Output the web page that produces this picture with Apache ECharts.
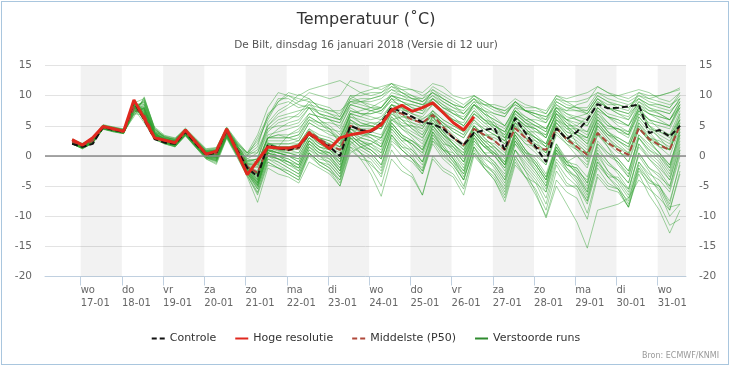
<!DOCTYPE html>
<html><head><meta charset="utf-8">
<script src="https://cdn.jsdelivr.net/npm/echarts@6/dist/echarts.min.js"></script>
<style>
html,body{margin:0;padding:0;background:#fff;}
#frame{position:absolute;left:1px;top:1px;width:726px;height:362px;border:1px solid #a9c6de;}
#chart{position:absolute;left:0;top:0;width:732px;height:366px;}
</style></head>
<body><div id="frame"></div><div id="chart"></div>
<script>
// Time grid: 6-hourly steps (local time) starting 16-01 19:00
const START_DAY = 16 + 19/24;
const STEP_DAYS = 0.25;

// Tick labels (x axis)
const TICK_DAYS = [17,18,19,20,21,22,23,24,25,26,27,28,29,30,31];
const DAY_NAMES = ['wo','do','vr','za','zo','ma','di','wo','do','vr','za','zo','ma','di','wo'];
const DAY_DATES = ['17-01','18-01','19-01','20-01','21-01','22-01','23-01','24-01','25-01','26-01','27-01','28-01','29-01','30-01','31-01'];
const BAND_DAYS = [17,19,21,23,25,27,29,31];
const Y_TICKS = [-20,-15,-10,-5,0,5,10,15];

// Control run
const controle = [2.0, 1.5,2.0,4.8,4.3, 4.0,9.0,6.0,2.8, 2.2,2.0,4.0,2.0, 0.2,0.5,4.3,1.0, -2.0,-3.4,1.8,1.3, 1.0,1.5,3.6,2.5, 1.5,0.0,5.0,4.3, 4.0,5.5,8.0,7.3, 6.5,5.6,5.3,4.5, 3.0,1.8,3.8,4.3, 4.6,1.0,6.3,3.8, 1.5,-1.0,4.6,2.8, 4.0,6.0,8.6,7.9, 8.0,8.2,8.5,3.8, 4.3,3.2,5.0];
// High resolution run (10 days)
const hogeResolutie = [2.7, 1.8,3.0,4.9,4.5, 4.1,9.3,6.2,3.0, 2.6,2.2,4.3,2.3, 0.3,0.8,4.5,0.7, -3.1,-0.8,1.5,1.3, 1.3,1.7,3.8,2.5, 1.2,3.0,3.5,3.8, 4.2,5.2,7.6,8.4, 7.4,8.0,8.8,7.2, 5.5,4.3,6.5];
// Median (P50)
const middelste = [2.3, 1.7,2.5,4.7,4.4, 4.0,8.0,6.8,3.2, 2.5,2.2,4.0,2.1, 0.4,0.4,4.0,1.2, -1.8,-2.8,1.6,1.2, 1.0,1.3,4.0,2.8, 1.8,1.0,5.0,4.3, 4.0,5.0,7.5,7.0, 6.0,5.5,6.8,4.8, 3.0,1.8,4.5,3.5, 2.5,1.0,4.6,3.0, 1.4,1.0,4.6,2.8, 1.5,0.2,3.8,2.2, 1.0,0.2,4.6,2.8, 1.8,1.0,5.1];

// Perturbed ensemble members
const verstoordeRuns = [
[2.2, 1.5,2.4,4.9,4.5, 4.1,8.8,6.2,3.0, 2.4,2.1,4.1,2.1, 0.4,0.5,4.2,1.2, -1.8,-3.0,2.0,1.5, 1.2,1.8,3.8,2.8, 1.8,0.8,5.5,5.0, 4.8,6.0,8.5,7.8, 7.0,6.2,7.0,5.5, 4.0,3.0,5.5,4.5, 3.5,2.5,6.5,4.5, 3.0,1.5,6.0,5.0, 5.0,6.5,9.0,8.0, 7.5,7.0,8.5,5.0, 4.0,3.5,6.0],
[2.6, 1.9,2.8,5.1,4.6, 4.3,7.5,8.0,3.8, 2.8,2.5,4.5,2.6, 0.9,1.0,4.6,2.2, 0.5,2.0,6.5,9.0, 10.0,9.5,9.0,7.0, 6.0,5.5,9.5,10.5, 11.0,11.5,12.0,11.0, 10.0,9.5,10.5,9.0, 8.0,7.5,9.5,8.0, 7.0,6.5,9.0,7.5, 6.5,6.0,9.5,8.5, 8.0,7.5,10.0,9.0, 8.5,8.0,10.0,9.0, 8.5,8.0,10.5],
[2.0, 1.3,2.2,4.6,4.1, 3.8,7.0,6.8,3.4, 2.2,1.6,3.6,1.6, -0.2,-0.6,3.4,0.4, -2.8,-5.5,-0.5,-1.5, -2.5,-3.5,0.5,-1.0, -2.0,-4.5,1.5,0.5, -1.5,-3.0,2.5,1.0, -0.5,-2.0,3.0,1.0, -1.0,-3.0,2.0,0.0, -2.0,-4.5,1.0,-1.5, -3.5,-6.0,-0.5,-2.5, -4.5,-7.5,-1.0,-3.0, -4.0,-5.5,0.5,-2.0, -3.5,-5.0,1.0],
[2.4, 1.7,2.6,4.8,4.4, 4.0,8.2,7.5,3.6, 2.7,2.3,3.9,2.3, 0.6,0.2,3.9,0.8, -2.2,-4.0,1.0,0.0, -0.5,-1.5,2.5,1.0, 0.0,-2.5,3.0,1.5, 0.5,-1.5,3.5,1.5, 0.0,-2.5,2.5,0.0, -1.5,-4.0,1.5,-1.0, -3.0,-5.5,0.0,-2.5, -6.0,-10.3,-5.0,-8.0, -11.0,-15.3,-9.0,-8.5, -8.0,-7.0,-4.0,-5.5, -7.0,-9.0,-3.0],
[2.3, 1.6,2.5,4.7,4.3, 4.0,6.5,9.8,4.5, 3.0,2.8,4.4,2.7, 0.8,0.9,4.4,1.8, -0.5,-1.0,3.0,3.5, 3.0,3.5,6.5,5.5, 4.5,2.0,7.0,7.5, 8.0,9.0,10.0,9.5, 9.0,8.5,9.0,7.5, 6.5,5.0,7.5,6.0, 5.0,3.5,7.5,6.0, 5.0,4.0,8.5,7.0, 6.0,5.0,8.0,6.5, 5.0,4.0,8.0,7.0, 6.5,6.0,9.0],
[2.1, 1.4,2.3,4.5,4.0, 3.7,7.8,5.5,2.8, 2.0,1.5,3.3,1.4, -0.5,-1.2,3.0,0.0, -3.5,-7.7,-2.0,-3.0, -3.5,-4.5,-1.0,-2.0, -3.0,-5.0,0.5,1.5, 2.0,3.0,6.0,6.5, 6.0,5.5,7.0,5.0, 3.5,2.0,5.0,3.0, 1.5,-0.5,4.0,2.0, 0.5,-1.5,3.5,2.0, 1.0,-0.5,5.0,3.5, 2.5,1.0,6.5,4.5, 3.0,2.0,7.0],
[2.5, 1.8,2.7,4.9,4.6, 4.2,8.5,8.8,4.0, 3.2,2.6,4.2,2.5, 0.7,0.6,4.0,1.5, -1.0,-0.5,5.5,7.5, 8.5,10.2,9.5,8.0, 7.5,7.0,10.0,9.0, 8.0,7.5,9.0,8.5, 8.5,8.0,11.0,10.0, 9.0,8.0,9.5,7.5, 5.5,3.0,6.0,4.0, 2.5,0.5,5.0,3.0, 1.5,-0.5,4.5,2.5, 1.0,-1.0,3.5,2.0, 0.5,-1.5,4.0],
[2.0, 1.2,2.1,4.5,4.2, 3.9,8.0,7.2,3.3, 2.5,2.0,3.7,1.8, 0.0,-0.3,3.6,0.6, -2.4,-4.5,0.5,0.0, -1.0,-2.5,1.5,0.0, -1.5,-3.5,2.5,0.5, -2.0,-5.0,1.0,-1.5, -3.0,-6.5,-0.5,-2.5, -3.5,-6.5,0.0,-2.0, -4.0,-7.6,-1.5,-3.5, -4.5,-6.0,0.5,-1.5, -2.5,-4.0,2.5,0.5, -1.0,-3.0,3.5,1.5, 0.0,-2.0,4.5],
[2.7, 2.0,2.9,5.0,4.7, 4.4,8.8,9.5,4.8, 3.4,3.0,4.6,2.9, 1.2,1.4,4.8,2.5, 0.5,0.5,4.5,6.0, 6.5,6.5,8.5,8.0, 7.5,7.5,9.0,9.5, 9.5,10.0,11.5,11.0, 11.0,10.5,12.0,11.5, 10.0,9.5,10.0,8.5, 7.5,7.0,8.5,7.5, 7.0,6.5,8.0,7.5, 8.5,9.0,11.5,10.5, 9.5,9.0,10.0,9.5, 10.0,10.5,11.3],
[2.4, 1.6,2.4,4.8,4.4, 4.1,9.0,6.5,3.1, 2.5,2.2,4.0,2.0, 0.3,0.2,4.1,1.0, -2.0,-3.2,1.8,1.0, 0.8,1.2,4.0,2.5, 1.5,0.5,6.0,4.5, 3.5,3.0,7.5,5.0, 3.5,2.5,6.5,4.0, 2.0,0.5,5.0,3.0, 1.5,0.0,5.5,3.0, 1.0,-1.0,4.5,2.5, 1.5,0.0,5.0,3.0, 1.5,0.0,5.5,3.5, 2.0,1.0,6.5],
[2.3, 1.5,2.3,4.7,4.3, 4.0,7.2,8.5,3.9, 2.6,2.0,3.9,2.0, 0.2,0.0,3.7,0.7, -2.0,-3.8,1.2,0.5, 0.0,-0.5,3.0,1.5, 0.5,-1.5,4.0,2.5, 1.5,0.0,5.0,3.0, 2.0,0.5,4.5,2.5, 1.0,-1.0,3.5,1.5, 0.0,-2.0,3.0,0.5, -1.5,-4.0,1.5,-1.0, -3.0,-5.5,0.0,-2.5, -4.5,-7.0,-2.0,-5.0, -8.0,-11.5,-10.5],
[2.8, 2.1,3.0,5.2,4.8, 4.5,8.0,9.0,4.3, 3.3,2.9,4.3,2.8, 1.0,1.2,4.5,2.0, 0.0,1.0,5.0,7.0, 8.0,9.0,10.5,10.0, 9.5,10.0,12.5,12.0, 11.5,11.0,12.0,10.5, 9.5,9.0,10.0,8.5, 7.0,6.0,8.5,7.0, 6.0,5.0,8.0,7.5, 7.5,7.0,10.0,9.0, 8.0,7.0,9.5,8.0, 7.0,6.5,9.0,8.0, 7.5,7.0,9.5],
[2.2, 1.4,2.3,4.6,4.2, 3.9,8.6,6.0,2.9, 2.1,1.7,3.5,1.6, -0.3,-0.8,3.2,0.2, -2.8,-5.0,0.0,-1.0, -2.0,-3.0,1.0,-0.5, -1.0,-3.0,3.0,2.5, 2.0,1.0,5.5,3.5, 2.5,1.0,5.0,2.5, 0.5,-2.0,3.0,0.5, -1.0,-3.5,2.0,-0.5, -2.5,-5.0,1.0,-2.0, -4.0,-7.0,-0.5,-3.5, -5.0,-8.0,-1.5,-4.0, -5.5,-9.0,-2.5],
[2.5, 1.7,2.6,4.8,4.5, 4.2,7.8,9.2,4.2, 2.9,2.4,4.1,2.3, 0.5,0.7,4.3,1.6, -1.2,-1.5,3.5,4.0, 4.5,5.0,7.0,6.5, 6.0,4.5,8.5,8.0, 7.5,7.0,9.5,8.0, 7.0,6.5,8.5,7.0, 6.0,5.5,8.5,7.5, 6.5,5.0,7.5,5.5, 4.5,3.0,7.0,5.5, 4.5,3.5,7.5,6.5, 6.0,5.0,8.5,7.5, 7.0,6.0,8.0],
[2.1, 1.5,2.4,4.6,4.3, 4.0,8.3,6.6,3.2, 2.4,1.9,3.8,1.9, 0.1,-0.1,3.8,0.8, -1.6,-2.8,2.2,1.5, 1.5,2.0,4.5,3.0, 2.5,1.5,6.5,6.0, 5.5,5.0,8.0,6.0, 4.5,3.0,6.0,3.5, 1.5,-1.0,3.0,0.5, -1.5,-4.0,1.0,-2.0, -4.0,-7.0,-1.0,-3.5, -5.0,-8.0,-2.0,-4.5, -5.5,-7.5,-1.0,-3.0, -4.0,-6.0,0.0],
[2.6, 1.8,2.7,5.0,4.6, 4.3,8.7,7.8,3.7, 2.7,2.4,4.2,2.4, 0.6,0.8,4.4,1.8, -0.8,-0.5,4.0,5.5, 6.0,7.0,9.0,8.5, 8.0,6.5,9.5,9.0, 9.0,9.5,11.0,10.5, 10.0,9.0,10.5,9.5, 8.5,7.0,9.0,7.0, 5.0,4.0,7.5,6.0, 5.0,4.5,8.0,6.0, 4.0,3.0,6.5,4.0, 2.5,1.5,5.0,3.0, 2.0,1.0,5.5],
[2.0, 1.3,2.2,4.5,4.1, 3.8,6.8,8.0,3.5, 2.3,1.8,3.6,1.7, -0.1,-0.4,3.5,0.5, -3.0,-6.0,-1.0,-2.0, -3.0,-4.0,0.0,-1.5, -2.5,-4.0,2.0,3.0, 4.0,5.0,8.0,7.0, 5.0,3.5,6.5,4.0, 2.0,0.0,4.0,2.0, 0.5,-1.5,3.5,1.0, -1.5,-4.0,2.0,-0.5, -2.5,-5.0,1.5,-1.0, -2.5,-4.5,2.0,0.0, -1.5,-4.0,1.5],
[2.3, 1.6,2.5,4.7,4.4, 4.0,8.0,6.9,3.4, 2.6,2.2,3.9,2.0, 0.3,0.4,4.0,1.2, -1.8,-2.6,1.5,1.2, 1.0,1.5,4.2,3.0, 2.0,1.5,5.0,4.5, 4.5,5.0,7.5,7.0, 6.0,5.5,6.5,4.5, 3.0,1.5,4.5,3.5, 2.5,1.0,4.5,3.0, 1.5,0.5,4.5,2.5, 1.0,0.5,4.0,2.0, 0.5,0.0,4.5,2.5, 1.5,1.0,5.0],
[2.7, 1.9,2.8,5.0,4.7, 4.3,8.4,8.6,4.1, 3.1,2.7,4.4,2.6, 0.9,1.1,4.6,2.1, 0.2,1.5,7.0,8.5, 9.0,8.0,8.5,7.0, 6.5,6.0,9.0,9.0, 8.5,8.0,10.0,9.0, 8.0,7.5,9.5,8.0, 7.0,6.0,8.5,7.5, 7.0,6.5,9.0,8.0, 8.0,7.5,10.0,9.5, 10.0,10.5,11.5,10.5, 10.0,9.5,10.5,9.5, 9.0,8.5,9.5],
[2.1, 1.4,2.3,4.6,4.2, 3.9,7.5,7.0,3.3, 2.3,1.9,3.7,1.8, 0.0,-0.2,3.7,0.6, -2.5,-4.5,0.5,0.0, -1.0,-2.0,2.0,0.5, -0.5,-2.5,3.5,2.0, 1.0,-0.5,4.5,2.5, 1.0,-1.0,4.0,1.5, -0.5,-3.0,2.5,0.5, 0.5,-1.0,4.0,2.0, 1.5,0.0,5.0,3.0, 2.0,0.5,5.5,3.5, 2.0,0.5,5.0,2.5, 0.5,-2.0,3.5],
[2.6, 1.8,2.7,4.9,4.6, 4.3,9.0,7.0,3.5, 2.8,2.5,4.3,2.4, 0.7,0.9,4.4,2.0, 0.5,3.5,8.0,10.5, 10.0,9.0,9.5,8.0, 7.0,6.0,8.5,8.0, 7.5,8.0,10.5,10.0, 9.5,9.5,11.5,10.5, 9.5,8.5,10.0,9.0, 8.0,7.5,9.0,7.5, 6.5,5.5,8.0,6.5, 6.0,5.5,9.0,8.0, 7.5,7.0,9.5,8.5, 8.5,8.0,10.0],
[2.4, 1.7,2.5,4.7,4.4, 4.0,8.1,7.3,3.4, 2.5,2.2,4.0,2.1, 0.4,0.3,3.9,0.9, -1.8,-3.5,1.5,1.0, 0.5,0.0,3.0,2.0, 1.0,-0.5,4.5,3.5, 3.0,2.0,6.0,4.5, 3.5,2.0,5.5,3.5, 2.5,1.0,5.0,3.5, 3.0,2.0,6.0,4.0, 3.0,2.0,6.5,4.5, 3.5,2.5,6.0,4.0, 2.5,1.5,5.5,3.0, 1.5,0.0,4.5],
[2.2, 1.5,2.4,4.7,4.3, 4.0,7.6,7.8,3.6, 2.4,1.8,3.6,1.7, -0.1,-0.5,3.5,0.4, -2.6,-4.8,0.0,-0.5, -1.5,-2.5,1.0,0.0, -1.0,-3.0,2.5,1.0, 0.0,-2.0,3.5,1.5, 1.0,-1.0,4.0,2.0, 1.5,0.0,4.5,2.5, 1.0,-1.5,3.5,1.0, -0.5,-3.0,2.0,-1.0, -3.0,-6.0,0.5,-2.5, -4.0,-6.5,-1.0,-3.5, -6.0,-10.0,-8.0],
[2.5, 1.8,2.6,4.9,4.5, 4.2,8.9,6.8,3.3, 2.7,2.3,4.1,2.3, 0.5,0.6,4.2,1.4, -1.5,-2.0,2.5,2.5, 2.5,3.0,6.0,5.5, 5.5,5.0,8.0,7.0, 6.5,6.0,8.5,8.0, 7.5,7.0,8.5,7.0, 6.0,5.0,7.5,6.0, 4.5,3.5,7.0,5.5, 4.0,3.0,7.5,6.0, 5.0,4.0,7.5,5.5, 4.0,3.5,7.0,5.5, 5.0,4.5,8.0],
[2.0, 1.2,2.1,4.4,4.0, 3.7,7.3,7.6,3.7, 2.2,1.6,3.4,1.5, -0.4,-1.0,3.1,0.1, -3.2,-6.5,-1.5,-2.0, -2.5,-3.5,0.5,-1.0, -2.0,-4.0,1.5,-0.5, -3.0,-6.7,-0.5,-2.5, -3.5,-6.5,0.0,-2.0, -3.0,-5.5,0.5,-1.5, -2.5,-5.0,1.0,-1.0, -3.0,-5.5,0.5,-2.0, -3.5,-6.0,0.5,-1.5, -2.5,-4.5,1.5,-0.5, -2.0,-4.0,2.0],
[2.3, 1.5,2.4,4.8,4.4, 4.1,8.4,7.1,3.3, 2.6,2.3,4.0,2.1, 0.2,0.1,3.9,1.0, -2.0,-3.0,2.0,1.5, 1.5,1.0,3.5,2.0, 1.0,-1.0,4.0,3.0, 2.5,1.5,6.0,5.0, 5.0,4.5,7.0,5.5, 4.5,3.5,6.0,4.5, 3.5,2.0,5.5,4.0, 4.0,3.5,7.0,6.0, 6.5,7.0,9.5,8.5, 8.5,8.0,9.5,8.0, 7.0,6.0,8.5],
[2.6, 1.9,2.8,5.0,4.6, 4.3,8.0,9.0,4.4, 3.0,2.6,4.2,2.5, 0.8,0.9,4.3,1.7, -0.5,0.5,5.0,6.5, 7.0,7.5,8.0,6.0, 5.0,3.5,7.5,7.0, 7.0,7.5,9.5,8.0, 6.5,5.0,7.5,5.0, 3.0,1.0,4.0,2.0, 0.5,-1.5,3.0,0.5, -1.0,-3.5,1.5,-1.0, 0.0,-1.5,3.5,2.0, 1.5,0.5,4.5,3.0, 2.5,1.5,6.0],
[2.2, 1.4,2.3,4.6,4.2, 3.9,8.5,6.3,3.0, 2.2,1.8,3.7,1.8, -0.2,-0.6,3.4,0.3, -2.9,-5.2,0.5,1.5, 3.5,4.5,6.5,5.5, 4.0,2.5,7.0,6.5, 6.0,6.5,8.5,7.0, 5.5,4.5,7.5,6.0, 5.0,4.0,7.0,5.5, 4.0,2.5,6.5,5.0, 3.5,2.0,6.0,4.0, 3.0,1.5,6.5,5.0, 4.5,3.5,7.5,6.0, 5.5,5.0,8.5],
[2.5, 1.7,2.6,4.8,4.5, 4.1,8.2,8.2,3.9, 2.9,2.5,4.3,2.4, 0.6,0.7,4.2,1.5, -1.0,-1.0,3.0,3.5, 3.5,4.0,7.0,6.5, 6.0,5.5,8.5,9.0, 9.5,10.0,11.0,10.0, 9.0,8.5,9.5,8.0, 7.5,7.0,9.0,8.5, 8.5,8.0,9.5,8.5, 8.0,7.0,9.5,9.0, 9.0,9.5,10.5,10.0, 10.0,10.5,11.0,10.5, 9.5,9.0,10.5],
[2.1, 1.4,2.2,4.6,4.2, 3.8,8.1,6.0,2.8, 2.0,1.6,3.5,1.5, -0.3,-0.9,3.3,0.2, -2.7,-4.8,0.8,0.5, 0.0,-1.0,2.5,1.0, 0.5,-1.0,4.0,2.5, 1.5,0.5,5.0,3.0, 2.0,0.5,5.0,3.0, 1.5,-0.5,4.0,2.0, 0.0,-2.5,2.5,0.0, -1.5,-4.0,1.0,-1.0, -1.5,-3.5,2.0,0.5, -0.5,-2.5,3.0,1.0, 0.0,-2.5,3.5],
[2.4, 1.6,2.5,4.8,4.4, 4.1,7.0,9.6,4.6, 3.1,2.7,4.3,2.4, 0.5,0.4,4.0,1.2, -1.5,-2.5,2.0,2.0, 2.0,2.5,5.5,4.5, 3.5,3.0,7.0,5.5, 5.0,4.5,8.5,7.5, 7.5,7.0,9.5,8.5, 7.5,6.0,8.0,6.0, 4.5,3.0,6.5,4.5, 3.0,1.5,5.5,3.5, 2.5,1.0,5.5,3.5, 3.0,2.0,6.5,4.5, 4.0,3.0,7.0],
[2.2, 1.5,2.4,4.6,4.2, 3.9,7.9,6.4,3.1, 2.3,1.9,3.8,1.9, 0.0,-0.2,3.6,0.7, -2.2,-4.2,1.0,0.5, 0.5,0.0,3.0,1.5, 1.0,-0.5,5.0,4.0, 3.5,2.5,6.5,4.5, 3.0,1.0,4.5,2.0, -0.5,-3.5,1.5,-1.5, -3.0,-6.0,0.0,-2.5, -4.5,-8.0,-1.5,-4.5, -5.5,-9.5,-3.0,-5.0, -5.5,-8.5,-2.0,-4.0, -5.0,-8.0,-1.0],
[2.6, 1.9,2.7,5.0,4.6, 4.2,8.6,7.4,3.6, 2.8,2.4,4.2,2.4, 0.7,0.8,4.3,1.7, -1.2,-1.2,3.0,4.5, 5.5,6.0,8.0,7.0, 6.5,6.0,9.0,8.5, 8.0,8.0,10.0,9.0, 8.0,7.5,9.0,7.5, 6.0,5.0,7.0,5.5, 5.0,4.0,7.5,6.0, 6.0,5.5,9.0,8.0, 7.5,7.0,9.5,8.0, 7.0,6.0,9.0,7.5, 7.5,7.0,9.5],
[2.3, 1.6,2.4,4.7,4.3, 4.0,8.3,6.2,3.0, 2.4,2.0,3.8,1.9, 0.1,-0.2,3.8,0.7, -2.3,-4.3,0.5,-0.5, -1.5,-2.0,1.5,0.5, 0.5,-1.0,4.5,4.0, 3.0,1.5,5.5,3.5, 1.5,-1.0,3.5,1.0, 0.0,-2.5,3.0,1.5, 1.5,0.0,5.0,3.5, 2.0,0.5,5.5,3.5, 1.0,-1.0,4.0,1.5, -0.5,-2.5,3.0,0.5, -1.0,-3.5,2.5],
[2.7, 2.0,2.9,5.1,4.8, 4.4,7.7,9.3,4.6, 3.2,2.8,4.5,2.7, 1.1,1.3,4.7,2.3, 0.5,2.5,6.0,9.0, 10.5,10.0,11.0,11.5, 12.0,12.5,11.5,10.5, 10.0,10.5,12.0,11.5, 11.0,10.0,11.0,9.5, 8.5,8.0,9.5,8.5, 8.0,7.5,8.5,7.5, 7.0,6.5,8.5,7.5, 7.5,7.5,10.0,9.0, 8.0,7.5,10.5,10.0, 10.0,10.5,11.0],
[2.1, 1.3,2.2,4.5,4.1, 3.8,7.4,7.9,3.8, 2.3,1.7,3.5,1.6, -0.2,-0.7,3.3,0.3, -2.5,-4.6,0.2,-0.5, -1.0,-1.5,2.0,1.0, 0.5,-1.5,3.5,2.0, 1.0,-0.5,4.0,2.0, 0.5,-1.5,3.5,1.5, -0.5,-2.5,2.5,0.5, -1.0,-3.0,2.5,0.5, 0.0,-1.5,4.0,2.0, 0.0,-2.0,3.5,1.5, -1.5,-3.5,2.0,-0.5, -2.5,-5.0,1.0],
[2.5, 1.8,2.6,4.9,4.5, 4.2,8.7,7.6,3.8, 2.8,2.4,4.2,2.3, 0.6,0.5,4.1,1.4, -1.3,-1.8,3.0,3.0, 3.0,3.5,6.0,5.0, 4.5,4.0,7.5,7.0, 7.0,7.5,9.5,9.0, 8.5,8.0,9.5,8.0, 7.0,6.5,8.5,7.0, 6.0,5.0,8.0,6.5, 5.5,4.5,7.5,5.5, 4.0,3.0,7.0,5.0, 4.5,3.5,7.5,5.0, 3.0,1.0,5.0],
[2.0, 1.2,2.1,4.5,4.1, 3.7,8.4,5.8,2.7, 2.0,1.5,3.4,1.4, -0.5,-1.4,2.9,-0.2, -3.3,-6.2,-1.0,-2.0, -3.0,-4.0,0.5,-1.5, -2.5,-5.0,1.0,-0.5, -1.0,-3.5,2.0,0.0, -1.0,-3.0,2.5,1.0, 0.5,-1.5,3.5,1.5, 0.5,-1.5,4.0,2.5, 2.0,1.0,6.0,4.5, 4.5,4.0,8.0,6.5, 5.5,5.0,8.0,6.0, 4.5,3.5,7.5],
[2.4, 1.6,2.5,4.8,4.4, 4.0,8.2,6.7,3.2, 2.5,2.1,3.9,2.0, 0.3,0.2,4.0,1.1, -1.9,-3.3,1.5,1.0, 1.0,0.5,3.5,2.5, 2.0,1.0,5.5,4.0, 4.0,3.5,7.0,6.0, 5.5,5.0,7.0,5.5, 4.0,3.0,6.0,4.0, 2.5,1.0,5.0,3.0, 2.5,1.5,5.5,4.0, 3.5,3.0,7.0,5.5, 4.0,3.0,7.0,5.0, 3.5,2.5,6.0],
[2.2, 1.4,2.3,4.6,4.2, 3.9,8.0,7.0,3.4, 2.4,2.0,3.8,1.9, 0.1,-0.1,3.7,0.7, -2.1,-3.9,1.0,0.5, 0.0,-1.0,2.5,1.0, 0.0,-2.0,3.0,1.5, 1.0,-0.5,4.5,2.5, 2.5,1.5,5.5,3.5, 2.0,0.5,4.5,2.5, 1.0,-1.0,3.5,1.0, -1.0,-3.5,1.5,-1.5, -2.0,-4.5,1.0,-1.0, -3.0,-5.5,0.0,-2.5, -5.0,-8.5,-8.0],
[2.5, 1.8,2.7,4.8,4.5, 4.2,9.2,6.6,3.2, 2.6,2.3,4.1,2.2, 0.5,0.6,4.2,1.6, 0.0,3.0,6.5,9.5, 9.5,8.5,8.0,6.0, 4.5,3.0,6.5,5.5, 5.0,4.5,7.0,5.5, 5.0,4.0,6.5,5.0, 4.5,3.5,7.0,6.0, 5.5,4.5,7.5,6.5, 5.5,4.5,7.5,6.0, 5.5,5.0,8.0,6.5, 6.0,5.0,7.5,6.0, 5.5,5.0,8.0],
[2.3, 1.5,2.4,4.7,4.3, 4.0,8.6,6.4,3.1, 2.5,2.1,3.8,1.9, 0.2,0.1,3.8,0.9, -2.1,-3.6,1.4,0.8, 0.5,0.5,3.5,2.0, 1.5,0.0,4.5,3.5, 3.5,3.0,6.5,5.0, 4.0,3.0,5.5,3.5, 2.0,0.0,3.5,1.5, 0.0,-2.0,2.5,0.0, -2.0,-4.5,0.5,-2.5, -3.5,-6.5,-1.0,-3.5, -5.5,-8.5,-3.0,-6.5, -9.0,-12.8,-9.0],
[2.4, 1.7,2.5,4.7,4.4, 4.1,7.9,7.7,3.7, 2.7,2.2,4.0,2.1, 0.4,0.3,3.9,1.0, -1.7,-3.0,2.0,2.0, 2.0,2.0,4.5,3.5, 3.0,2.0,6.0,5.0, 5.5,5.5,8.0,6.5, 6.5,6.0,7.5,6.0, 5.0,4.0,6.5,5.0, 4.0,3.0,6.5,5.0, 4.5,3.5,7.0,5.0, 3.5,2.0,6.0,4.0, 3.0,2.0,6.0,4.0, 2.0,1.0,5.5],
[2.1, 1.4,2.3,4.6,4.2, 3.9,7.7,7.3,3.5, 2.3,1.8,3.6,1.7, -0.1,-0.4,3.5,0.5, -2.6,-5.0,0.0,-0.5, -1.0,-2.0,1.5,0.0, -0.5,-2.5,3.5,2.0, 2.0,0.5,5.0,3.0, 2.0,0.0,4.0,1.0, -1.0,-4.0,1.0,-2.0, -4.0,-7.0,-1.0,-3.5, -5.5,-9.0,-2.5,-5.0, -5.0,-7.5,-1.5,-3.5, -3.5,-6.0,0.5,-2.0, -3.0,-5.5,0.5],
[2.6, 1.8,2.7,5.0,4.6, 4.2,8.1,8.5,4.0, 2.9,2.5,4.4,2.5, 0.8,1.0,4.5,1.9, -0.8,-0.5,4.5,5.0, 5.0,5.5,8.0,7.5, 7.0,6.5,10.0,10.0, 10.5,10.5,11.5,10.5, 9.5,9.0,10.5,9.5, 8.5,8.0,10.0,9.0, 8.0,7.0,9.0,7.5, 7.0,6.0,9.0,8.0, 8.0,8.0,10.5,9.5, 9.0,8.5,9.5,8.5, 8.0,7.5,9.0],
[2.0, 1.3,2.2,4.5,4.1, 3.8,7.1,8.1,3.9, 2.2,1.7,3.5,1.6, -0.3,-0.8,3.2,0.2, -2.8,-5.5,-0.5,-1.0, -2.0,-3.0,0.5,-1.0, -1.5,-3.5,2.0,0.5, -0.5,-2.5,3.0,1.0, -0.5,-2.5,3.0,0.5, -1.5,-4.0,1.5,-0.5, -1.5,-4.0,2.0,0.0, -2.5,-5.0,1.0,-1.5, -2.0,-4.5,2.0,0.0, -1.0,-3.5,3.0,1.0, -0.5,-3.0,3.0],
[2.4, 1.7,2.5,4.8,4.4, 4.0,8.8,6.0,2.9, 2.5,2.2,3.9,2.0, 0.3,0.3,4.0,1.1, -1.9,-3.0,1.5,1.5, 1.5,1.5,4.0,3.0, 2.5,1.5,6.0,5.0, 5.0,4.5,7.5,6.0, 4.5,3.5,6.0,4.0, 3.0,1.5,5.0,3.5, 3.5,2.5,6.5,5.0, 4.5,3.0,7.0,5.0, 3.5,2.0,6.0,4.5, 4.5,4.0,8.0,7.0, 6.0,5.0,8.5],
[2.2, 1.5,2.4,4.6,4.3, 3.9,7.9,6.9,3.3, 2.4,1.9,3.7,1.8, 0.0,-0.3,3.6,0.6, -2.4,-4.4,0.5,0.0, -0.5,-1.5,2.0,0.5, 0.0,-2.0,3.0,1.5, 0.5,-1.5,3.5,1.0, -0.5,-3.0,2.0,-0.5, -2.0,-5.0,0.5,-2.0, -3.5,-6.5,-0.5,-3.5, -6.5,-10.0,-4.0,-6.0, -7.0,-10.5,-3.5,-5.5, -6.0,-8.5,-2.5,-4.5, -5.0,-7.5,-1.5],
[2.5, 1.7,2.6,4.9,4.5, 4.1,8.3,7.9,3.8, 2.8,2.4,4.2,2.3, 0.5,0.6,4.1,1.4, -1.4,-1.5,3.0,3.0, 3.0,2.5,5.5,4.5, 4.0,3.0,7.0,6.5, 7.5,8.0,10.0,9.5, 9.0,8.5,10.0,9.0, 8.0,7.0,8.5,6.5, 5.0,4.0,7.0,5.5, 5.0,4.0,8.0,7.0, 6.5,6.0,8.5,7.0, 6.5,6.0,8.5,7.0, 6.5,6.0,9.0],
[2.3, 1.6,2.4,4.7,4.3, 4.0,8.1,6.8,3.2, 2.4,2.0,3.9,2.0, 0.2,0.0,3.9,0.8, -2.2,-4.0,1.0,0.5, 0.0,-0.5,2.5,1.5, 1.0,0.0,4.5,3.0, 2.5,1.5,5.5,3.5, 2.5,1.0,5.0,3.0, 1.0,-1.0,4.0,2.5, 2.0,0.5,5.5,4.0, 3.0,2.0,6.5,5.0, 2.0,0.5,5.0,3.0, 1.0,-1.0,4.5,2.5, 0.5,-1.5,4.0]
];

const X_MIN = 16.134, X_MAX = 31.687;
function toPairs(arr){ return arr.map((v,i)=>[START_DAY + i*STEP_DAYS, v]); }

const FONT = 'DejaVu Sans';
const GREEN = 'rgba(46,160,46,0.45)';
const DASH_ICON = 'path://M0,0h5v2h-5zM8,0h5v2h-5z';
const LINE_ICON = 'path://M0,0h13v2h-13z';

const series = [];
// grey day bands + zero line carrier
series.push({
  type:'line', name:'_bands', data:[], silent:true, z:1,
  markArea:{silent:true, itemStyle:{color:'rgba(0,0,0,0.05)'},
    data: BAND_DAYS.map(d=>[{xAxis:d},{xAxis:Math.min(d+1, X_MAX)}])},
  markLine:{silent:true, symbol:'none', label:{show:false},
    lineStyle:{color:'#8a8a8a', width:1.6, type:'solid'}, data:[{yAxis:0}]}
});
verstoordeRuns.forEach(run=>{
  series.push({type:'line', name:'Verstoorde runs', data:toPairs(run), showSymbol:false, symbol:'none',
    lineStyle:{color:GREEN, width:1}, itemStyle:{color:'#2e8b2e'}, z:3, silent:true});
});
series.push({type:'line', name:'Middelste (P50)', data:toPairs(middelste), symbol:'none', z:5,
  lineStyle:{color:'#a8483a', width:2, type:[6,3]}, itemStyle:{color:'#a8483a'}});
series.push({type:'line', name:'Controle', data:toPairs(controle), symbol:'none', z:6,
  lineStyle:{color:'#111', width:2, type:[6,3]}, itemStyle:{color:'#111'}});
series.push({type:'line', name:'Hoge resolutie', data:toPairs(hogeResolutie), symbol:'none', z:7,
  lineStyle:{color:'#e0281e', width:3}, itemStyle:{color:'#e0281e'}});

const chart = echarts.init(document.getElementById('chart'), null, {renderer:'canvas'});
chart.setOption({
  animation:false,
  backgroundColor:'transparent',
  title:[
    {text:'Temperatuur (˚C)', left:'center', top:7, textStyle:{fontFamily:FONT, fontSize:16, fontWeight:'normal', color:'#333'}},
    {text:'De Bilt, dinsdag 16 januari 2018 (Versie di 12 uur)', left:'center', top:35, textStyle:{fontFamily:FONT, fontSize:10.5, fontWeight:'normal', color:'#555'}}
  ],
  legend:{
    top:328, left:'center', itemGap:19, itemWidth:13, itemHeight:2.5,
    textStyle:{fontFamily:FONT, fontSize:11, color:'#333'},
    data:[
      {name:'Controle', icon:DASH_ICON, itemStyle:{color:'#111'}},
      {name:'Hoge resolutie', icon:LINE_ICON, itemStyle:{color:'#e0281e'}},
      {name:'Middelste (P50)', icon:DASH_ICON, itemStyle:{color:'#b0483a'}},
      {name:'Verstoorde runs', icon:LINE_ICON, itemStyle:{color:'#2e8b2e', opacity:1}}
    ]
  },
  grid:{left:45, right:46, top:65.5, bottom:89.5, containLabel:false},
  xAxis:{
    type:'value', min:X_MIN, max:X_MAX,
    axisLine:{show:true, onZero:false, lineStyle:{color:'#c0d0e0'}},
    axisTick:{show:true, customValues:TICK_DAYS, length:9, lineStyle:{color:'#c0d0e0'}},
    axisLabel:{show:true, customValues:TICK_DAYS, align:'left', margin:7, lineHeight:13,
      fontFamily:FONT, fontSize:10, color:'#666',
      formatter:(v)=>{const i=TICK_DAYS.indexOf(Math.round(v)); return i<0?'':DAY_NAMES[i]+'\n'+DAY_DATES[i];}},
    splitLine:{show:false}
  },
  yAxis:[
    {type:'value', min:-20, max:15, interval:5, position:'left',
     axisLine:{show:false}, axisTick:{show:false},
     axisLabel:{fontFamily:FONT, fontSize:10.5, color:'#666', margin:13},
     splitLine:{show:true, lineStyle:{color:'#e3e3e3'}}},
    {type:'value', min:-20, max:15, interval:5, position:'right',
     axisLine:{show:false}, axisTick:{show:false},
     axisLabel:{fontFamily:FONT, fontSize:10.5, color:'#666', margin:13},
     splitLine:{show:false}}
  ],
  graphic:[{type:'text', right:13, bottom:6, style:{text:'Bron: ECMWF/KNMI', fontFamily:FONT, fontSize:8, fill:'#999'}}],
  series: series
});
</script></body></html>
